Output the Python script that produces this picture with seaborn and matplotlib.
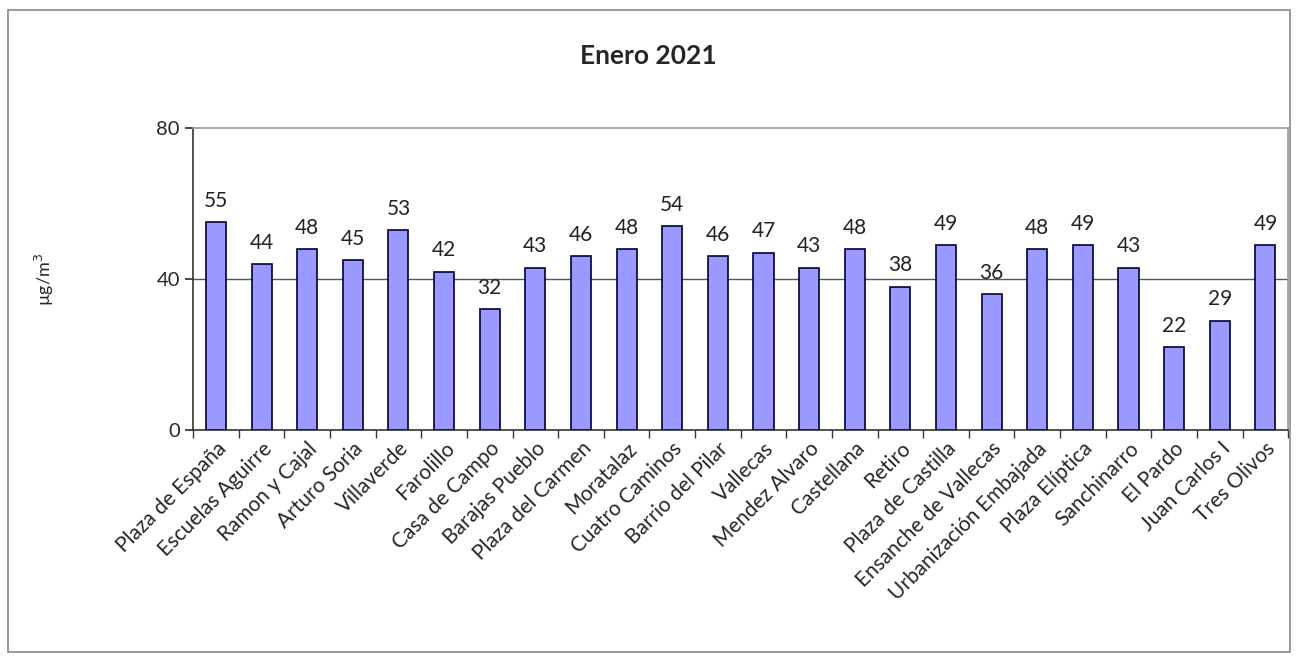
import seaborn as sns
import matplotlib.pyplot as plt
import pandas as pd
from matplotlib.patches import Rectangle

# Data
estaciones = ['Plaza de España', 'Escuelas Aguirre', 'Ramon y Cajal', 'Arturo Soria',
              'Villaverde', 'Farolillo', 'Casa de Campo', 'Barajas Pueblo',
              'Plaza del Carmen', 'Moratalaz', 'Cuatro Caminos', 'Barrio del Pilar',
              'Vallecas', 'Mendez Alvaro', 'Castellana', 'Retiro', 'Plaza de Castilla',
              'Ensanche de Vallecas', 'Urbanización Embajada', 'Plaza Elíptica',
              'Sanchinarro', 'El Pardo', 'Juan Carlos I', 'Tres Olivos']
valores = [55, 44, 48, 45, 53, 42, 32, 43, 46, 48, 54, 46, 47, 43, 48, 38, 49,
           36, 48, 49, 43, 22, 29, 49]
yticks = [0, 40, 80]

df = pd.DataFrame({'estacion': estaciones, 'valor': valores})

sns.set_theme(style='white')
plt.rcParams['font.family'] = ['Lato', 'DejaVu Sans']

fig = plt.figure(figsize=(12.96, 6.57), dpi=100)
ax = fig.add_axes([0.149, 0.3455, 0.845, 0.4595])

sns.barplot(data=df, x='estacion', y='valor', color='#9999FF', saturation=1,
            width=0.44, edgecolor='#000033', linewidth=1.2, ax=ax, zorder=3)

ax.set_ylim(0, 80)
ax.set_xlim(-0.5, len(estaciones) - 0.5)
ax.set_yticks(yticks)
ax.tick_params(axis='y', labelsize=14.5, length=6, direction='out', left=True, color='#333333')
ax.axhline(40, color='#555555', lw=1, zorder=1)

# category ticks between bars
ax.set_xticks(range(len(estaciones)))
ax.set_xticklabels(estaciones, rotation=45, ha='right', rotation_mode='anchor', fontsize=15)
ax.tick_params(axis='x', which='major', length=0, pad=6)
ax.set_xticks([i - 0.5 for i in range(len(estaciones) + 1)], minor=True)
ax.tick_params(axis='x', which='minor', length=6, direction='out', bottom=True, color='#333333')

for s in ['left', 'bottom']:
    ax.spines[s].set_color('#333333')
    ax.spines[s].set_linewidth(1.2)
for s in ['top', 'right']:
    ax.spines[s].set_color('#999999')
    ax.spines[s].set_linewidth(1.2)

for i, v in enumerate(valores):
    ax.text(i, v + 3, str(v), ha='center', va='bottom', fontsize=15, color='#222222')

ax.set_xlabel('')
ax.set_ylabel('µg/m$^3$', fontsize=13, labelpad=72)
fig.text(0.5, 0.915, 'Enero 2021', ha='center', va='center', fontsize=19, fontweight='bold')

# outer frame
fig.patches.append(Rectangle((8 / 1296, 5 / 657), 1282 / 1296, 642 / 657, transform=fig.transFigure,
                             fill=False, edgecolor='#888888', lw=1.2))

plt.savefig('out.png', dpi=100)
